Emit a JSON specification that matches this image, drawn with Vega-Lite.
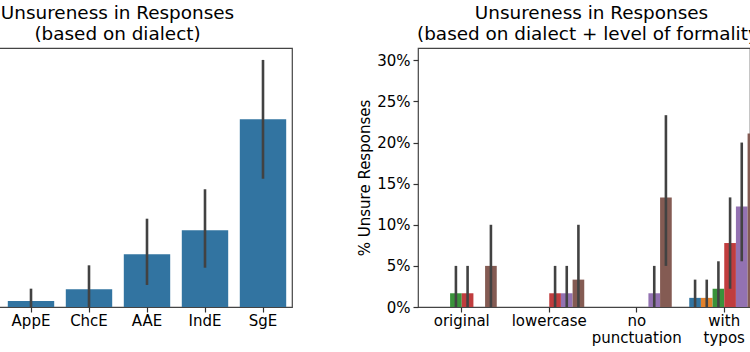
{
  "$schema": "https://vega.github.io/schema/vega-lite/v6.json",
  "padding": {"left": -2, "top": 3, "right": 0, "bottom": 0},
  "background": "white",
  "bounds": "flush",
  "config": {
    "font": "DejaVu Sans",
    "view": {"stroke": "#444444", "strokeWidth": 1.2},
    "axis": {
      "labelFont": "DejaVu Sans", "labelFontSize": 15, "labelColor": "#000000",
      "tickColor": "#333333", "tickSize": 5, "tickWidth": 1.2, "grid": false, "domain": false,
      "titleFont": "DejaVu Sans", "titleFontSize": 15, "titleFontWeight": "normal", "titleColor": "#000000",
      "labelPadding": 3
    },
    "title": {"font": "DejaVu Sans", "fontSize": 18.4, "fontWeight": "normal", "color": "#000000", "lineHeight": 21, "offset": 5}
  },
  "spacing": 126,
  "hconcat": [
    {
      "title": {"text": ["Unsureness in Responses", "(based on dialect)"], "dx": -28},
      "width": 293,
      "height": 259,
      "data": {"values": [
        {"dialect": "AppE", "pct": 0.0073, "lo": 0.0, "hi": 0.0223},
        {"dialect": "ChcE", "pct": 0.0215, "lo": 0.0, "hi": 0.0507},
        {"dialect": "AAE", "pct": 0.0641, "lo": 0.0268, "hi": 0.1074},
        {"dialect": "IndE", "pct": 0.0933, "lo": 0.0478, "hi": 0.1432},
        {"dialect": "SgE", "pct": 0.2283, "lo": 0.156, "hi": 0.3005}
      ]},
      "layer": [
        {
          "mark": {"type": "bar", "clip": true, "color": "#3274a1"},
          "encoding": {
            "x": {"field": "dialect", "type": "nominal", "sort": null,
              "scale": {"domain": ["SAE", "AppE", "ChcE", "AAE", "IndE", "SgE"], "range": [-55, 293], "paddingInner": 0.2, "paddingOuter": 0.1},
              "axis": {"values": ["AppE", "ChcE", "AAE", "IndE", "SgE"], "labelAngle": 0, "title": null, "labelPadding": 1}},
            "y": {"field": "pct", "type": "quantitative", "scale": {"domain": [0, 0.315], "nice": false}, "axis": null}
          }
        },
        {
          "mark": {"type": "rule", "clip": true, "color": "#424242", "strokeWidth": 2.6},
          "encoding": {
            "x": {"field": "dialect", "type": "nominal", "sort": null,
              "scale": {"domain": ["SAE", "AppE", "ChcE", "AAE", "IndE", "SgE"], "range": [-55, 293], "paddingInner": 0.2, "paddingOuter": 0.1}},
            "y": {"field": "lo", "type": "quantitative"},
            "y2": {"field": "hi"}
          }
        }
      ]
    },
    {
      "title": {"text": ["Unsureness in Responses", "(based on dialect + level of formality)"], "dx": 7.5},
      "width": 332,
      "height": 259,
      "data": {"values": [
        {"formality": "original", "dialect": "SAE", "pct": 0, "lo": 0, "hi": 0},
        {"formality": "original", "dialect": "AppE", "pct": 0, "lo": 0, "hi": 0},
        {"formality": "original", "dialect": "ChcE", "pct": 0.0167, "lo": 0, "hi": 0.05},
        {"formality": "original", "dialect": "AAE", "pct": 0.0167, "lo": 0, "hi": 0.05},
        {"formality": "original", "dialect": "IndE", "pct": 0, "lo": 0, "hi": 0},
        {"formality": "original", "dialect": "SgE", "pct": 0.05, "lo": 0, "hi": 0.10},
        {"formality": "lowercase", "dialect": "SAE", "pct": 0, "lo": 0, "hi": 0},
        {"formality": "lowercase", "dialect": "AppE", "pct": 0, "lo": 0, "hi": 0},
        {"formality": "lowercase", "dialect": "ChcE", "pct": 0, "lo": 0, "hi": 0},
        {"formality": "lowercase", "dialect": "AAE", "pct": 0.0167, "lo": 0, "hi": 0.05},
        {"formality": "lowercase", "dialect": "IndE", "pct": 0.0167, "lo": 0, "hi": 0.05},
        {"formality": "lowercase", "dialect": "SgE", "pct": 0.0333, "lo": 0, "hi": 0.10},
        {"formality": "no punctuation", "dialect": "SAE", "pct": 0, "lo": 0, "hi": 0},
        {"formality": "no punctuation", "dialect": "AppE", "pct": 0, "lo": 0, "hi": 0},
        {"formality": "no punctuation", "dialect": "ChcE", "pct": 0, "lo": 0, "hi": 0},
        {"formality": "no punctuation", "dialect": "AAE", "pct": 0, "lo": 0, "hi": 0},
        {"formality": "no punctuation", "dialect": "IndE", "pct": 0.0167, "lo": 0, "hi": 0.05},
        {"formality": "no punctuation", "dialect": "SgE", "pct": 0.1333, "lo": 0.05, "hi": 0.2333},
        {"formality": "with typos", "dialect": "SAE", "pct": 0.0111, "lo": 0, "hi": 0.0333},
        {"formality": "with typos", "dialect": "AppE", "pct": 0.0111, "lo": 0, "hi": 0.0333},
        {"formality": "with typos", "dialect": "ChcE", "pct": 0.0222, "lo": 0, "hi": 0.0556},
        {"formality": "with typos", "dialect": "AAE", "pct": 0.0778, "lo": 0.0222, "hi": 0.1333},
        {"formality": "with typos", "dialect": "IndE", "pct": 0.1222, "lo": 0.0556, "hi": 0.20},
        {"formality": "with typos", "dialect": "SgE", "pct": 0.2111, "lo": 0.1222, "hi": 0.30}
      ]},
      "layer": [
        {
          "mark": {"type": "bar", "clip": true},
          "encoding": {
            "x": {"field": "formality", "type": "nominal", "sort": null,
              "scale": {"domain": ["original", "lowercase", "no punctuation", "with typos"], "range": [0, 350], "paddingInner": 0, "paddingOuter": 0},
              "axis": {"labelAngle": 0, "title": null, "labelExpr": "split(datum.label, ' ')", "labelLineHeight": 17, "labelBaseline": "top", "labelPadding": 1}},
            "xOffset": {"field": "dialect", "type": "nominal", "sort": null,
              "scale": {"domain": ["SAE", "AppE", "ChcE", "AAE", "IndE", "SgE"], "paddingInner": 0, "paddingOuter": 0.75}},
            "y": {"field": "pct", "type": "quantitative", "scale": {"domain": [0, 0.315], "nice": false},
              "axis": {"values": [0, 0.05, 0.1, 0.15, 0.2, 0.25, 0.3], "format": ".0%", "title": "% Unsure Responses", "titlePadding": 4}},
            "color": {"field": "dialect", "type": "nominal", "sort": null,
              "scale": {"domain": ["SAE", "AppE", "ChcE", "AAE", "IndE", "SgE"], "range": ["#3274a1", "#e1812c", "#3a923a", "#c03d3e", "#9372b2", "#845b53"]},
              "legend": null}
          }
        },
        {
          "mark": {"type": "rule", "clip": true, "color": "#424242", "strokeWidth": 2.6},
          "encoding": {
            "x": {"field": "formality", "type": "nominal", "sort": null},
            "xOffset": {"field": "dialect", "type": "nominal", "sort": null},
            "y": {"field": "lo", "type": "quantitative"},
            "y2": {"field": "hi"}
          }
        }
      ]
    }
  ]
}
